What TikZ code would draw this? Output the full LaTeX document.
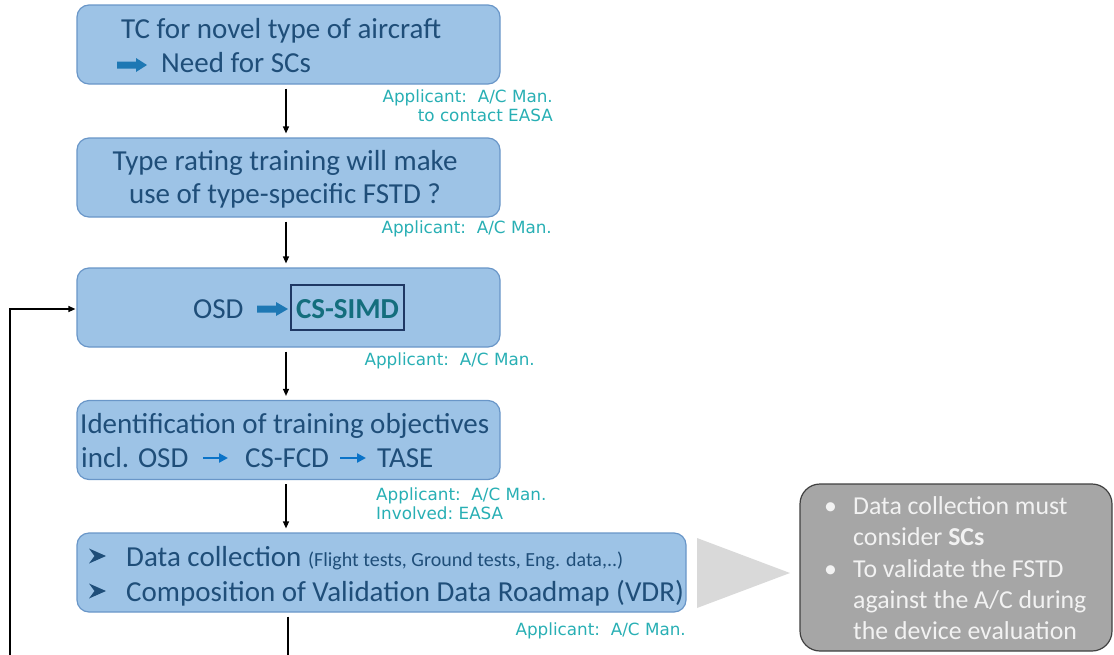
\documentclass[tikz,border=0pt]{standalone}
\usepackage{fontspec}
\setmainfont{Carlito}
\newfontfamily\dejavu{DejaVu Sans}
\usetikzlibrary{arrows.meta,calc}
\definecolor{boxfill}{RGB}{157,195,230}
\definecolor{boxdraw}{RGB}{105,150,200}
\definecolor{boxtext}{RGB}{31,78,121}
\definecolor{blockarrow}{RGB}{30,120,180}
\definecolor{smallarrow}{RGB}{10,115,200}
\definecolor{simd}{RGB}{20,110,125}
\definecolor{simdframe}{RGB}{31,56,100}
\definecolor{anno}{RGB}{40,175,180}
\definecolor{graybox}{RGB}{166,166,166}
\definecolor{grayedge}{RGB}{64,64,64}
\definecolor{graytri}{RGB}{217,217,217}
\definecolor{graytext}{RGB}{242,242,242}
\tikzset{
  flowbox/.style={draw=boxdraw, fill=boxfill, rounded corners=12pt, line width=1.2pt, inner sep=0pt},
  txt/.style={text=boxtext, font=\fontsize{29}{34}\selectfont, inner sep=0pt},
  annot/.style={text=anno, font=\dejavu\fontsize{16.8}{20}\selectfont, inner sep=0pt},
  graytxt/.style={text=graytext, font=\fontsize{25.8}{30}\selectfont, inner sep=0pt},
  conn/.style={line width=1.2pt, -{Triangle[length=7pt,width=6pt]}},
  plain/.style={line width=1.2pt},
  thinarrow/.style={draw=smallarrow, line width=2.6pt, -{Triangle[length=9pt,width=9pt]}}
}
\begin{document}
\begin{tikzpicture}[x=1pt,y=-1pt]
\useasboundingbox (0,0) rectangle (1114,654);

% boxes
\node[flowbox, minimum width=423pt, minimum height=79pt] (b1) at (288.5,44.5) {};
\node[flowbox, minimum width=423pt, minimum height=79pt] (b2) at (288.5,177.5) {};
\node[flowbox, minimum width=423pt, minimum height=79pt] (b3) at (288.5,307.5) {};
\node[flowbox, minimum width=423pt, minimum height=79pt] (b4) at (288.5,440) {};
\node[flowbox, minimum width=609pt, minimum height=79pt] (b5) at (381.5,572.5) {};

% box 1 text
\node[txt, anchor=base west] (t1a) at (121,38) {TC for novel type of aircraft};
\fill[blockarrow] (117,61.5) -- (136,61.5) -- (136,58) -- (147,65) -- (136,72) -- (136,68.5) -- (117,68.5) -- cycle;
\node[txt, anchor=base west] (t1b) at (161,72) {Need for SCs};

% box 2 text
\node[txt, anchor=base] (t2a) at (285,170.5) {Type rating training will make};
\node[txt, anchor=base] (t2b) at (285,203.5) {use of type-specific FSTD ?};

% box 3 text
\node[txt, anchor=base west] (t3a) at (193,318.5) {OSD};
\fill[blockarrow] (257,305.5) -- (276,305.5) -- (276,302) -- (288,309) -- (276,316) -- (276,312.5) -- (257,312.5) -- cycle;
\node[draw=simdframe, line width=1.3pt, minimum width=113pt, minimum height=45pt, inner sep=0pt] (simdbox) at (347.5,307.5) {};
\node[txt, text=simd, font=\bfseries\fontsize{29}{34}\selectfont, anchor=base] (t3b) at (347.5,318.5) {CS-SIMD};

% box 4 text
\node[txt, anchor=base west] (t4a) at (80,433.5) {Identification of training objectives};
\node[txt, anchor=base west] (t4b) at (81,467.5) {incl. OSD};
\node[txt, anchor=base west] (t4c) at (245,467.5) {CS-FCD};
\node[txt, anchor=base west] (t4d) at (377,467.5) {TASE};
\draw[thinarrow] (203,458) -- (228,458);
\draw[thinarrow] (340,458) -- (366,458);

% box 5 text
\fill[boxtext] (89,548.5) -- (106,556) -- (89,563.5) -- (94.5,556) -- cycle;
\node[txt, anchor=base west] (t5a) at (126,566.5) {Data collection {\fontsize{20}{24}\selectfont(Flight tests, Ground tests, Eng. data,..)}};
\fill[boxtext] (89,583.5) -- (106,591) -- (89,598.5) -- (94.5,591) -- cycle;
\node[txt, anchor=base west] (t5b) at (126,601.5) {Composition of Validation Data Roadmap (VDR)};

% annotations
\node[annot, anchor=base east] (a1) at (553,102) {Applicant:\ \ A/C Man.};
\node[annot, anchor=base east] (a1b) at (553,121) {to contact EASA};
\node[annot, anchor=base east] (a2) at (552,233) {Applicant:\ \ A/C Man.};
\node[annot, anchor=base east] (a3) at (535,365) {Applicant:\ \ A/C Man.};
\node[annot, anchor=base west] (a4) at (376,500) {Applicant:\ \ A/C Man.};
\node[annot, anchor=base west] (a4b) at (376,519) {Involved:\ EASA};
\node[annot, anchor=base east] (a5) at (686,635) {Applicant:\ \ A/C Man.};

% connectors
\draw[conn] ($(b1.south)+(-2.5,4)$) -- ($(b2.north)+(-2.5,-4)$);
\draw[conn] ($(b2.south)+(-2.5,4)$) -- ($(b3.north)+(-2.5,-4)$);
\draw[conn] ($(b3.south)+(-2.5,4)$) -- ($(b4.north)+(-2.5,-4)$);
\draw[conn] ($(b4.south)+(-2.5,4)$) -- ($(b4.south |- b5.north)+(-2.5,-4)$);
\coordinate (down) at (288,660);
\draw[plain] (down |- b5.south) ++(0,4) -- (down);
\coordinate (loopstart) at (10,660);
\coordinate (loopcorner) at (10,309);
\draw[conn] (loopstart) -- (loopcorner) -- ($(b3.west)+(-1,1.5)$);

% gray chevron and note
\fill[graytri] (697,538) -- (790,573) -- (697,608) -- cycle;
\node[draw=grayedge, fill=graybox, line width=1.2pt, rounded corners=20pt, minimum width=312pt, minimum height=167pt, inner sep=0pt] (note) at (956,567.5) {};
\node[graytxt, anchor=base west] (n1b) at (824,514) {•};
\node[graytxt, anchor=base west] (n1) at (853,514) {Data collection must};
\node[graytxt, anchor=base west] (n2) at (853,545) {consider \textbf{SCs}};
\node[graytxt, anchor=base west] (n3b) at (824,577) {•};
\node[graytxt, anchor=base west] (n3) at (853,577) {To validate the FSTD};
\node[graytxt, anchor=base west] (n4) at (853,608) {against the A/C during};
\node[graytxt, anchor=base west] (n5) at (853,639) {the device evaluation};
\end{tikzpicture}
\end{document}
